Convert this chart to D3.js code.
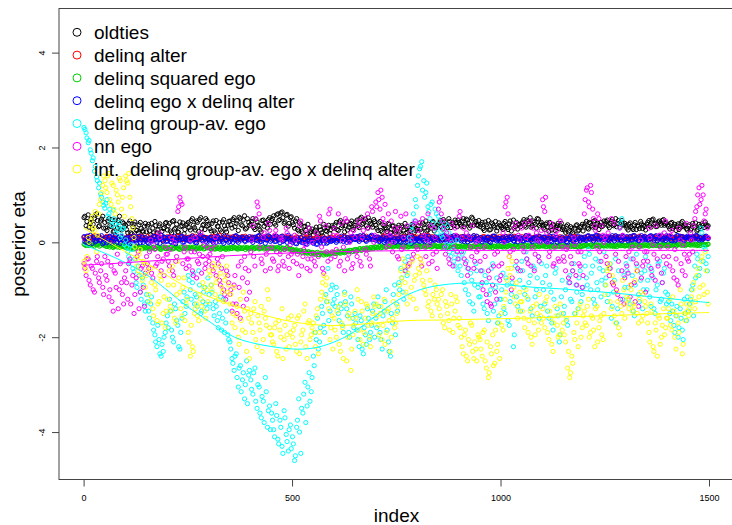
<!DOCTYPE html>
<html lang="en">
<head>
<meta charset="utf-8">
<title>posterior eta</title>
<script src="https://d3js.org/d3.v7.min.js"></script>
<style>
  body { margin: 0; background: #fff; }
  text { font-family: "Liberation Sans", Arial, sans-serif; }
</style>
</head>
<body>
<script>
// series labels and colours (legend order = drawing order)
var labels = ["oldties", "delinq alter", "delinq squared ego", "delinq ego x delinq alter",
              "delinq group-av. ego", "nn ego", "int.  delinq group-av. ego x delinq alter"];
var colors = ["#000000", "#ff0000", "#00cd00", "#0000ff", "#00ffff", "#ff00ff", "#ffff00"];

// MCMC draw indices (two interleaved sets of draws)
var indexA = d3.range(1, 1501, 5);
var indexB = d3.range(3, 1501, 5);

var oldties = [
 .52,.35,.58,.4,.28,.5,.6,.33,.45,.55, .42,.25,.5,.33,.22,.47,.3,.55,.26,.4,
 .36,.2,.45,.18,.38,.26,.2,.42,.24,.34, .22,.38,.16,.3,.44,.2,.35,.15,.29,.4,
 .26,.4,.2,.46,.3,.22,.43,.35,.18,.37, .42,.26,.5,.31,.45,.23,.52,.36,.27,.46,
 .38,.24,.45,.2,.34,.42,.22,.48,.28,.36, .45,.3,.52,.4,.25,.5,.35,.56,.3,.42,
 .38,.5,.27,.43,.34,.22,.47,.4,.3,.52, .46,.56,.36,.6,.48,.64,.4,.57,.34,.52,
 .42,.3,.5,.24,.38,.2,.34,.17,.3,.23, .16,.26,.12,.33,.2,.38,.25,.3,.18,.35,
 .3,.42,.25,.46,.35,.22,.44,.32,.4,.27, .36,.47,.31,.53,.4,.49,.3,.45,.37,.48,
 .36,.25,.44,.22,.35,.28,.4,.2,.34,.24, .24,.36,.18,.32,.4,.21,.3,.15,.35,.25,
 .28,.41,.22,.37,.45,.26,.35,.42,.24,.31, .37,.46,.28,.43,.35,.5,.31,.41,.47,.33,
 .42,.34,.5,.38,.47,.3,.53,.36,.44,.35, .33,.42,.25,.37,.46,.27,.39,.32,.24,.41,
 .35,.27,.44,.31,.39,.24,.47,.33,.28,.38, .4,.48,.32,.44,.52,.35,.42,.3,.49,.39,
 .36,.27,.41,.23,.33,.38,.25,.35,.29,.4, .31,.21,.37,.25,.3,.18,.35,.24,.31,.38,
 .34,.44,.28,.4,.32,.46,.37,.27,.42,.35, .39,.47,.31,.44,.35,.5,.4,.32,.46,.37,
 .35,.26,.41,.3,.37,.27,.34,.44,.29,.33, .38,.46,.32,.49,.4,.34,.45,.36,.48,.39,
 .37,.28,.42,.33,.25,.39,.31,.44,.35,.29, .34,.26,.4,.32,.24,.38,.29,.36,.43,.33
];
var oldtiesB = [
 .55,.44,.32,.5,.38,.57,.46,.35,.49,.3, .3,.45,.35,.48,.24,.38,.46,.28,.43,.32,
 .27,.4,.2,.33,.43,.25,.37,.29,.22,.4, .34,.24,.4,.2,.35,.26,.39,.23,.31,.42,
 .35,.24,.44,.28,.38,.21,.33,.41,.27,.39, .31,.46,.36,.26,.42,.48,.29,.38,.5,.35,
 .29,.4,.24,.46,.33,.26,.43,.35,.22,.44, .37,.48,.33,.45,.53,.37,.47,.28,.5,.36,
 .44,.31,.49,.36,.26,.46,.34,.42,.48,.38, .5,.4,.58,.46,.62,.52,.43,.59,.4,.54,
 .37,.45,.27,.41,.23,.33,.25,.38,.2,.28, .22,.32,.18,.26,.14,.3,.23,.36,.27,.31,
 .37,.27,.43,.31,.41,.35,.26,.38,.45,.32, .43,.34,.5,.38,.45,.35,.52,.4,.32,.44,
 .3,.41,.25,.37,.31,.23,.38,.28,.35,.21, .31,.22,.35,.26,.19,.33,.25,.38,.2,.29,
 .35,.27,.41,.31,.24,.38,.3,.44,.32,.36, .41,.33,.48,.37,.31,.44,.39,.35,.42,.47,
 .38,.45,.33,.49,.4,.35,.5,.41,.37,.46, .38,.29,.43,.33,.26,.41,.35,.44,.31,.36,
 .31,.4,.35,.27,.45,.36,.3,.42,.38,.33, .43,.35,.47,.4,.32,.45,.38,.5,.36,.42,
 .3,.38,.33,.42,.26,.35,.31,.4,.36,.27, .26,.34,.22,.33,.2,.3,.37,.26,.34,.24,
 .39,.3,.42,.35,.44,.31,.4,.36,.33,.45, .44,.35,.4,.48,.37,.33,.46,.41,.36,.4,
 .3,.38,.33,.27,.42,.35,.29,.39,.36,.26, .42,.35,.47,.38,.33,.43,.4,.46,.36,.41,
 .33,.4,.29,.38,.35,.27,.41,.33,.37,.26, .37,.29,.35,.41,.27,.33,.39,.31,.37,.35
];

var delinqAlter = [
 .1,.06,.13,.04,.09,.14,.07,.11,.05,.08, .09,.13,.06,.1,.03,.08,.12,.07,.1,.05,
 .07,.11,.04,.09,.13,.06,.1,.08,.12,.05, .08,.05,.11,.07,.14,.09,.06,.1,.04,.09,
 .12,.07,.1,.05,.09,.13,.08,.06,.11,.07, .06,.1,.14,.08,.05,.11,.09,.13,.07,.1,
 .09,.12,.06,.1,.08,.15,.07,.11,.05,.09, .11,.07,.1,.13,.06,.09,.12,.08,.1,.06,
 .08,.11,.05,.09,.14,.07,.1,.06,.12,.09, .1,.06,.13,.08,.11,.05,.09,.12,.07,.1,
 .05,.09,.12,.07,.1,.04,.08,.11,.06,.09, .07,.03,.09,.06,.1,.05,.08,.04,.07,.1,
 .09,.12,.06,.1,.07,.13,.08,.05,.11,.08, .1,.07,.12,.09,.14,.06,.1,.08,.13,.07,
 .08,.11,.06,.1,.13,.07,.09,.12,.05,.1, .09,.06,.11,.08,.12,.05,.1,.07,.13,.08,
 .11,.08,.13,.07,.1,.15,.09,.12,.06,.1, .07,.1,.05,.09,.12,.08,.11,.06,.1,.13,
 .09,.12,.07,.1,.06,.11,.08,.14,.09,.07, .1,.07,.12,.09,.05,.1,.13,.08,.11,.06,
 .08,.11,.06,.1,.13,.07,.09,.12,.08,.1, .12,.09,.14,.07,.1,.06,.11,.08,.13,.09,
 .07,.1,.05,.09,.12,.08,.06,.11,.09,.07, .09,.06,.11,.08,.1,.13,.07,.1,.05,.09,
 .11,.08,.13,.1,.07,.12,.09,.14,.08,.1, .08,.12,.06,.1,.09,.13,.07,.11,.1,.06,
 .1,.07,.12,.09,.14,.08,.11,.06,.1,.13, .09,.11,.07,.12,.08,.1,.13,.07,.09,.11,
 .12,.08,.1,.06,.11,.09,.13,.08,.1,.07, .09,.11,.07,.1,.13,.08,.1,.12,.09,.11
];
var delinqAlterB = [
 .07,.11,.05,.1,.13,.08,.06,.12,.09,.07, .11,.08,.12,.06,.1,.14,.09,.05,.11,.08,
 .1,.06,.12,.08,.05,.11,.07,.13,.09,.06, .12,.08,.06,.1,.07,.12,.1,.05,.11,.08,
 .08,.12,.06,.11,.07,.09,.13,.08,.05,.1, .11,.07,.09,.13,.08,.06,.12,.09,.1,.06,
 .07,.1,.13,.08,.11,.06,.1,.08,.13,.07, .09,.12,.06,.1,.08,.11,.07,.13,.09,.08,
 .11,.07,.1,.12,.06,.1,.08,.13,.07,.11, .08,.12,.09,.06,.1,.13,.07,.1,.11,.08,
 .08,.06,.1,.05,.09,.07,.11,.06,.08,.05, .06,.09,.04,.08,.05,.09,.06,.1,.05,.08,
 .1,.07,.11,.08,.12,.06,.1,.09,.07,.11, .08,.12,.07,.11,.09,.13,.08,.11,.06,.1,
 .11,.07,.09,.13,.08,.1,.06,.11,.09,.08, .07,.1,.08,.12,.06,.09,.11,.08,.1,.07,
 .09,.12,.08,.11,.14,.08,.1,.07,.12,.09, .11,.08,.13,.07,.1,.09,.12,.08,.07,.1,
 .08,.1,.12,.07,.11,.09,.06,.1,.12,.08, .09,.12,.06,.1,.08,.11,.07,.1,.09,.12,
 .1,.07,.12,.09,.11,.08,.13,.07,.1,.09, .08,.11,.1,.12,.07,.1,.09,.12,.08,.11,
 .09,.07,.11,.08,.1,.06,.1,.08,.12,.09, .07,.1,.08,.12,.06,.09,.11,.08,.1,.07,
 .09,.12,.08,.11,.1,.07,.12,.09,.11,.08, .1,.07,.11,.09,.12,.08,.1,.06,.12,.09,
 .08,.11,.09,.12,.07,.1,.13,.09,.11,.08, .1,.08,.12,.09,.11,.07,.1,.12,.08,.1,
 .1,.12,.08,.11,.09,.07,.1,.12,.09,.11, .1,.08,.12,.09,.11,.1,.08,.11,.1,.09
];

var delinqSqEgo = [
 -.04,-.07,-.02,-.06,-.03,-.08,-.05,-.02,-.06,-.04, -.06,-.09,-.05,-.08,-.11,-.07,-.1,-.06,-.09,-.08,
 -.1,-.12,-.08,-.11,-.14,-.09,-.12,-.1,-.13,-.11, -.12,-.1,-.14,-.11,-.13,-.09,-.12,-.15,-.1,-.13,
 -.11,-.14,-.1,-.13,-.09,-.12,-.15,-.11,-.13,-.1, -.12,-.1,-.13,-.11,-.14,-.1,-.12,-.09,-.13,-.11,
 -.1,-.13,-.11,-.14,-.12,-.1,-.13,-.11,-.15,-.12, -.11,-.13,-.1,-.12,-.14,-.11,-.13,-.1,-.12,-.14,
 -.12,-.1,-.13,-.11,-.14,-.12,-.1,-.13,-.11,-.12, -.13,-.11,-.14,-.12,-.1,-.13,-.15,-.12,-.14,-.13,
 -.15,-.18,-.16,-.2,-.17,-.22,-.19,-.23,-.2,-.24, -.22,-.25,-.21,-.26,-.23,-.27,-.24,-.22,-.25,-.23,
 -.21,-.24,-.2,-.23,-.19,-.22,-.18,-.2,-.17,-.19, -.16,-.18,-.14,-.17,-.13,-.15,-.12,-.14,-.11,-.13,
 -.1,-.12,-.09,-.11,-.08,-.1,-.07,-.09,-.06,-.08, -.07,-.09,-.06,-.08,-.1,-.07,-.09,-.06,-.08,-.07,
 -.08,-.06,-.09,-.07,-.1,-.08,-.06,-.09,-.07,-.08, -.09,-.07,-.1,-.08,-.11,-.09,-.07,-.1,-.08,-.09,
 -.08,-.1,-.07,-.09,-.11,-.08,-.1,-.07,-.09,-.08, -.09,-.07,-.1,-.08,-.06,-.09,-.11,-.08,-.1,-.07,
 -.08,-.1,-.07,-.09,-.06,-.08,-.1,-.07,-.09,-.08, -.07,-.09,-.06,-.08,-.1,-.07,-.09,-.06,-.08,-.07,
 -.08,-.06,-.09,-.07,-.1,-.08,-.06,-.09,-.07,-.08, -.09,-.07,-.1,-.08,-.06,-.09,-.07,-.1,-.08,-.07,
 -.07,-.05,-.08,-.06,-.09,-.07,-.05,-.08,-.06,-.07, -.06,-.08,-.05,-.07,-.09,-.06,-.08,-.05,-.07,-.06,
 -.07,-.05,-.08,-.06,-.04,-.07,-.09,-.06,-.08,-.05, -.06,-.08,-.05,-.07,-.04,-.06,-.08,-.05,-.07,-.06,
 -.05,-.07,-.04,-.06,-.08,-.05,-.03,-.06,-.04,-.05, -.04,-.06,-.03,-.05,-.07,-.04,-.06,-.03,-.05,-.04
];
var delinqSqEgoB = [
 -.05,-.03,-.07,-.04,-.06,-.02,-.05,-.08,-.03,-.06, -.08,-.06,-.1,-.07,-.09,-.06,-.08,-.11,-.07,-.1,
 -.11,-.09,-.13,-.1,-.12,-.08,-.11,-.14,-.1,-.12, -.11,-.14,-.12,-.1,-.13,-.11,-.14,-.12,-.1,-.13,
 -.13,-.11,-.14,-.12,-.11,-.14,-.1,-.13,-.12,-.14, -.11,-.13,-.1,-.14,-.12,-.13,-.11,-.14,-.1,-.12,
 -.12,-.11,-.14,-.1,-.13,-.15,-.11,-.13,-.12,-.14, -.13,-.1,-.12,-.14,-.11,-.13,-.12,-.15,-.11,-.13,
 -.11,-.14,-.12,-.1,-.13,-.11,-.14,-.12,-.13,-.11, -.12,-.14,-.11,-.13,-.15,-.12,-.14,-.11,-.13,-.16,
 -.17,-.16,-.19,-.18,-.21,-.19,-.22,-.2,-.23,-.21, -.24,-.22,-.26,-.23,-.25,-.22,-.26,-.24,-.23,-.21,
 -.23,-.2,-.22,-.19,-.21,-.2,-.19,-.17,-.2,-.16, -.15,-.17,-.13,-.16,-.14,-.12,-.15,-.11,-.13,-.1,
 -.11,-.09,-.12,-.08,-.1,-.09,-.08,-.07,-.09,-.07, -.08,-.06,-.09,-.07,-.08,-.1,-.06,-.08,-.07,-.09,
 -.07,-.09,-.08,-.06,-.09,-.07,-.1,-.08,-.06,-.09, -.08,-.1,-.07,-.09,-.08,-.1,-.08,-.09,-.07,-.1,
 -.09,-.07,-.1,-.08,-.07,-.1,-.09,-.08,-.1,-.07, -.08,-.1,-.07,-.09,-.1,-.07,-.08,-.09,-.07,-.09,
 -.09,-.07,-.1,-.08,-.07,-.09,-.08,-.06,-.1,-.07, -.08,-.06,-.09,-.07,-.08,-.06,-.1,-.07,-.09,-.06,
 -.07,-.09,-.06,-.08,-.07,-.1,-.08,-.07,-.09,-.06, -.08,-.09,-.06,-.09,-.07,-.08,-.09,-.06,-.09,-.08,
 -.06,-.08,-.07,-.05,-.08,-.06,-.07,-.09,-.05,-.08, -.07,-.05,-.08,-.06,-.07,-.09,-.05,-.07,-.06,-.08,
 -.06,-.08,-.05,-.07,-.06,-.05,-.08,-.07,-.05,-.07, -.05,-.07,-.06,-.04,-.07,-.05,-.07,-.06,-.04,-.07,
 -.06,-.04,-.07,-.05,-.06,-.04,-.06,-.05,-.07,-.04, -.05,-.03,-.06,-.04,-.05,-.07,-.03,-.05,-.06,-.04
];

var egoXAlter = [
 .12,0,.08,.15,-.02,.1,.03,.13,.05,-.03, .07,-.01,.11,.02,.09,.14,0,.06,.12,.03,
 .01,.1,-.03,.05,.13,.03,.08,-.01,.11,.05, .05,-.02,.09,.03,.12,0,.07,.15,.02,.1,
 .03,.11,0,.07,-.03,.09,.05,.13,.01,.07, .09,.02,.13,.05,-.01,.07,.14,.03,.1,0,
 .05,.11,0,.07,.13,.02,.09,-.02,.06,.11, .02,.09,.05,.14,0,.07,.11,.03,.1,.05,
 .07,0,.11,.04,.14,.02,.09,-.02,.06,.12, .05,.11,.02,.09,-.01,.13,.04,.07,.15,.02,
 0,.07,-.03,.05,.1,0,.07,-.04,.05,.03, -.02,.05,-.04,.03,.07,-.02,.05,0,.09,.03,
 .05,0,.09,.03,.07,.11,0,.07,.04,.12, .06,.12,.02,.09,.14,.04,.1,.06,.15,.08,
 .04,.11,.02,.07,0,.09,.04,.13,.02,.07, .03,.09,0,.05,.11,.02,.07,-.02,.09,.04,
 .07,.02,.11,.04,.13,.06,0,.09,.04,.11, .04,.11,.06,.14,.02,.08,.12,.04,.11,.06,
 .08,.03,.12,.06,.01,.1,.05,.14,.03,.08, .06,.01,.09,.04,.11,0,.06,.13,.03,.08,
 .04,.11,.02,.08,.06,.13,.03,.08,.01,.11, .08,.03,.14,.05,.1,.01,.08,.12,.05,.03,
 .06,.11,.01,.08,.04,.13,.06,0,.08,.04, .04,.09,0,.06,.11,.02,.06,.13,.03,.08,
 .1,.04,.14,.06,.12,.07,.15,.05,.1,.07, .05,.12,.03,.1,.07,.14,.05,.1,.03,.12,
 .07,.03,.12,.05,.14,.07,.03,.1,.05,.12, .1,.05,.14,.07,.12,.03,.09,.15,.06,.04,
 .07,.12,.03,.1,.05,.14,.07,.12,.04,.1, .1,.05,.12,.07,.14,.05,.1,.07,.12,.09
];
var egoXAlterB = [
 .02,.13,-.02,.07,.11,.01,.09,.04,.14,0, .1,.03,.13,-.01,.07,.05,.11,-.02,.06,.09,
 .08,0,.11,.03,.09,-.02,.13,.05,0,.1, 0,.07,.03,.13,.05,.1,-.02,.07,.11,.02,
 .1,.01,.07,.13,.03,.05,.11,0,.09,.05, .03,.11,.05,0,.09,.13,.05,.1,.02,.07,
 .1,.03,.07,0,.11,.07,.02,.13,.05,0, .07,0,.13,.03,.1,.05,.09,.02,.07,.12,
 .04,.1,.06,.13,.01,.07,.11,.05,.14,.02, .09,.02,.13,.05,.11,.02,.09,0,.07,.11,
 .05,-.02,.09,.02,0,.06,-.03,.02,.09,0, .02,-.04,.07,0,.04,.09,-.02,.07,.02,.05,
 .09,.03,.07,.13,.02,.05,.1,.02,.11,.07, .11,.05,.14,.06,.11,.02,.09,.13,.06,.11,
 .09,.02,.07,.11,.04,.02,.11,.06,.09,0, .07,.02,.11,.06,0,.09,.04,.11,.02,.07,
 .04,.11,.06,.01,.09,.13,.04,.06,.11,.06, .09,.03,.13,.06,.11,.04,.08,.14,.05,.12,
 .05,.11,.02,.09,.13,.04,.11,.06,.13,.03, .1,.05,.06,.11,.02,.08,.13,.05,.08,.03,
 .08,.03,.12,.04,.11,.07,.02,.11,.08,.05, .03,.11,.06,.13,.04,.08,.11,.03,.13,.08,
 .11,.03,.06,.13,.01,.08,.11,.05,.03,.11, .07,.01,.08,.13,.03,.09,.02,.08,.11,.05,
 .05,.13,.08,.11,.03,.14,.07,.12,.05,.12, .11,.05,.08,.14,.03,.1,.12,.05,.14,.08,
 .12,.07,.05,.14,.07,.1,.04,.14,.1,.06, .05,.13,.1,.04,.14,.07,.12,.05,.1,.14,
 .13,.05,.1,.03,.14,.08,.12,.05,.1,.13, .12,.06,.1,.14,.07,.11,.05,.09,.13,.08
];

var groupAvEgo = [
 2.42,2.31,2.1,1.95,1.72,1.5,1.38,1.15,1.02,.85, .72,.9,.6,.45,.68,.38,.25,.42,.15,.3,
 .05,-.2,-.4,-.15,-.62,-.85,-.5,-1.05,-.75,-1.3, -1.1,-1.45,-1.3,-1.7,-1.95,-2.2,-2.05,-2.4,-2.3,-1.9,
 -1.55,-1.2,-1.85,-2.1,-1.4,-1.75,-2.25,-1.6,-1.05,-1.35, -.7,-1.0,-.85,-1.3,-1.15,-.6,-1.5,-1.25,-.95,-1.4,
 -1.1,-.9,-1.4,-1.25,-1.65,-1.5,-1.85,-1.2,-1.7,-1.95, -2.1,-2.45,-2.7,-2.35,-3.05,-2.6,-2.9,-3.3,-2.5,-2.8,
 -2.9,-3.2,-2.65,-3.5,-3.05,-3.7,-3.35,-2.85,-3.9,-3.45, -3.6,-3.95,-3.4,-4.15,-3.75,-4.3,-3.55,-4.05,-4.4,-3.85,
 -4.1,-4.6,-3.9,-3.3,-4.45,-3.6,-2.95,-3.45,-2.75,-3.15, -2.4,-1.9,-1.6,-2.1,-1.35,-1.75,-1.1,-.55,-1.45,-.9,
 -1.2,-.95,-1.5,-1.3,-1.75,-1.05,-1.4,-1.9,-1.15,-1.6, -1.5,-1.85,-2.2,-1.65,-2.35,-1.95,-1.4,-2.05,-1.75,-1.3,
 -1.6,-1.15,-1.9,-2.25,-1.45,-1.0,-2.1,-2.4,-1.7,-.9, -1.3,-.85,-.55,-1.05,-.4,-.7,.1,.35,.6,.9,
 1.2,1.55,1.7,1.3,1.05,.75,.5,.85,.3,.6, .55,.3,.1,.4,-.05,.2,-.3,-.15,-.5,.05,
 -.35,-.7,-.2,-1.0,-.55,-1.25,-.8,-1.45,-.45,-.95, -1.15,-.6,-1.4,-.85,-1.65,-1.0,-.45,-1.3,-.75,-1.55,
 -1.2,-.65,-1.5,-.9,-1.75,-1.1,-2.2,-.5,-1.35,-.8, -.4,-.95,-.2,-1.2,-.7,-1.55,-.55,-1.0,-.3,-1.35,
 -.85,-1.3,-.5,-1.6,-1.05,-1.85,-.65,-1.4,-2.1,-1.15, -1.5,-1.0,-1.75,-.7,-1.25,-.45,-.9,-1.4,-.6,-1.1,
 -.3,-.75,-.15,-1.0,-.5,-1.3,-.85,-.4,-1.15,-.6, -.9,-1.25,-.55,-1.6,-1.05,-.35,-1.4,.3,.5,-.7,
 -.45,-.95,-1.3,-.7,-1.55,-.25,-1.1,-.8,-1.4,-.6, -1.0,-.5,-1.35,-.75,-1.5,-.9,-.4,-1.2,-.65,-1.05,
 -1.1,-1.5,-1.3,-1.75,-1.55,-2.0,-1.4,-1.85,-1.2,-1.65, -1.45,-1.2,-.9,-.5,-.25,-.7,.3,-.4,-.15,-.6
];
var groupAvEgoB = [
 2.38,2.2,2.15,1.88,1.78,1.6,1.3,1.25,.95,.78, .82,.55,.7,.35,.5,.2,.35,.1,.28,-.05,
 -.1,-.3,-.05,-.55,-.35,-.95,-.7,-1.2,-.9,-1.45, -1.25,-1.6,-1.15,-1.85,-2.1,-1.75,-2.35,-2.15,-2.0,-1.7,
 -1.8,-1.45,-2.0,-1.3,-1.65,-2.2,-1.9,-1.25,-1.5,-1.15, -.8,-1.2,-.65,-1.1,-1.35,-.9,-1.45,-1.05,-1.3,-.75,
 -1.3,-1.05,-1.55,-1.35,-1.8,-1.15,-1.6,-1.9,-1.45,-2.05, -2.25,-2.55,-2.4,-2.85,-2.65,-3.15,-2.75,-3.0,-3.4,-2.7,
 -3.1,-2.75,-3.35,-3.0,-3.6,-3.25,-3.8,-3.15,-3.55,-3.95, -3.75,-4.1,-3.65,-4.25,-3.9,-4.45,-3.7,-4.2,-3.95,-4.35,
 -4.25,-4.5,-3.75,-4.0,-3.5,-3.2,-3.8,-3.05,-3.35,-2.85, -2.6,-2.05,-2.25,-1.8,-1.5,-1.9,-1.25,-1.65,-1.0,-1.3,
 -1.35,-1.1,-1.65,-1.4,-1.9,-1.25,-1.55,-2.0,-1.3,-1.8, -1.7,-2.05,-1.55,-2.25,-1.8,-2.15,-1.6,-1.9,-1.45,-2.0,
 -1.8,-1.35,-2.05,-1.55,-1.25,-1.85,-2.3,-1.5,-1.1,-1.95, -1.45,-1.0,-.75,-1.2,-.6,-.3,0,.25,.45,.75,
 1.4,1.6,1.1,.95,1.25,.65,.8,.4,.7,.2, .45,.15,.25,-.1,.35,-.2,0,-.4,-.25,-.6,
 -.5,-.25,-.85,-.4,-1.1,-.65,-1.3,-.9,-.6,-1.15, -.9,-1.3,-.7,-1.5,-1.1,-.55,-1.45,-.95,-1.7,-1.2,
 -1.0,-1.4,-.75,-1.65,-1.25,-.85,-1.95,-1.15,-.6,-1.45, -.6,-1.1,-.35,-.85,-1.4,-.5,-1.15,-.75,-1.6,-.45,
 -1.0,-.7,-1.45,-.9,-1.7,-1.2,-.55,-1.55,-1.95,-.8, -1.35,-1.65,-.85,-1.2,-.6,-1.5,-1.05,-.75,-1.25,-.95,
 -.5,-.9,-.25,-.65,-1.2,-.35,-1.0,-.55,-.8,-.2, -.75,-1.1,-.45,-1.35,-.8,-1.7,-.6,.4,-1.2,-.95,
 -.6,-1.2,-.35,-1.45,-.9,-.5,-1.25,-.65,-1.0,-.3, -.8,-1.15,-.6,-1.4,-1.0,-.45,-1.25,-.85,-.55,-1.3,
 -1.25,-1.65,-1.45,-1.9,-1.35,-1.8,-1.6,-2.05,-1.5,-1.15, -1.3,-1.0,-1.55,-.75,-.35,-.55,.2,-.1,-.45,-.3
];

var nnEgo = [
 -.45,-.7,-.35,-.9,-.55,-1.05,-.4,-.75,-.6,-.95, -.3,-.8,-1.15,-.5,-1.45,-.65,-.25,-1.0,-.85,-1.3,
 -.6,-1.2,-.35,-.9,-1.5,-.75,-.2,-1.05,-.5,-1.35, -.3,-.55,.05,-.75,-.15,-.45,.2,-.6,-.35,-.1,
 -.25,-.5,.1,-.7,-.4,.65,.95,.8,-.2,-.55, -.35,.05,-.6,-.2,-.75,-.45,.2,-.3,-.55,-.1,
 -.4,-.15,-.6,.1,-.35,-.8,-.55,-1.0,-1.2,-.7, -1.1,-1.45,-.9,-1.3,-.5,-1.6,-.75,-.3,-1.2,-.6,
 -.2,.35,-.5,.85,.6,-.35,.1,-.6,-.15,.25, -.1,-.4,.25,-.6,-.25,.05,-.5,.3,-.3,-.05,
 -.2,.15,-.45,-.7,.45,-.3,-.05,-.55,.3,-.35, -.25,-.5,.1,.55,-.1,-.65,.35,-.4,.7,-.2,
 .3,-.15,.6,-.4,.05,-.6,.45,-.25,.2,-.45, .1,-.3,.45,-.5,.25,-.15,.6,-.35,.75,0,
 .85,1.05,.7,.95,.4,-.1,.6,.15,-.2,.3, .2,-.35,.55,-.1,-.6,.35,-.45,.05,-.25,.45,
 -.15,.4,-.5,.15,-.3,.6,-.05,-.4,.3,-.2, .7,.95,.45,-.1,.2,-.35,.05,-.5,.3,-.2,
 .55,-.2,.3,-.45,-.7,.1,-.3,-.55,0,-.15, -.4,-.85,-.1,-1.1,-.6,-1.3,-.9,-.25,-1.2,-.5,
 -.7,.2,.75,.95,-.3,-1.0,-.15,.4,-.55,.05, .3,-.2,.1,-.45,.45,-.1,-.6,.2,-.3,0,
 .9,.65,.2,-.3,.4,-.5,-.1,.25,-.4,.05, -.3,-.6,-.1,-.85,-.45,.1,-.7,-.2,-.5,-.95,
 .6,1.1,.85,1.2,.7,.35,-.1,.5,-.4,.15, .1,-.45,-.7,.5,-.9,-.25,-1.1,.3,-.6,-1.3,
 -.3,-.65,-1.15,-.1,-.85,-.45,-1.35,.05,-.5,-.2, -.2,.3,-.55,-.05,-.8,-.35,.15,-.65,-.3,.45,
 -.1,-.5,.25,-.75,-.35,-.9,.05,-.6,-.25,.4, -.4,.2,-.2,.5,.75,1.15,.9,1.0,.6,.3
];
var nnEgoB = [
 -.55,-.35,-.8,-.5,-1.0,-.65,-.3,-.85,-.45,-1.1, -.7,-.4,-1.0,-1.25,-.6,-.95,-1.4,-.45,-1.1,-.75,
 -.85,-.45,-1.3,-.7,-1.1,-.3,-1.4,-.55,-.95,-.65, -.45,-.2,-.65,-.05,-.5,-.3,.1,-.4,-.7,-.25,
 -.4,-.15,-.6,0,-.3,.75,.85,-.45,-.1,-.35, -.5,-.2,-.7,.1,-.4,-.25,-.65,-.05,-.45,-.3,
 -.25,-.5,-.05,-.7,-.45,-.9,-.3,-1.1,-.6,-.85, -1.0,-1.3,-.7,-1.5,-.95,-.4,-1.35,-.55,-.85,-1.05,
 .05,-.3,.5,.75,-.1,-.45,.2,-.25,.4,-.55, -.35,.15,-.2,-.5,.1,-.4,-.15,.2,-.55,-.25,
 -.4,.05,-.25,.35,-.5,-.15,.2,-.35,-.6,0, -.4,.2,-.3,.45,-.55,.05,-.2,.6,-.35,.15,
 -.3,.15,-.5,.4,-.1,.5,-.35,0,-.55,.25, -.2,.35,-.4,.1,.5,-.25,.3,-.5,.65,.15,
 .75,.9,1.1,.5,.8,.2,-.05,.45,0,.65, -.3,.3,-.15,.1,.6,-.5,.2,-.35,.4,-.1,
 .25,-.35,.5,-.1,.05,-.45,.35,-.25,.1,-.55, .85,.6,.3,-.25,.1,-.45,.4,-.1,.15,-.35,
 .65,.1,-.35,.2,-.55,-.1,.35,-.4,-.2,.05, -.6,-1.0,-.3,-1.25,-.75,-1.35,-.5,-1.05,-.2,-.8,
 -.45,0,.85,.6,-.2,-.75,.3,-.4,.15,-.6, -.1,.4,-.35,.15,-.5,.3,-.25,.05,-.4,.25,
 .75,.95,0,-.2,.3,-.45,.15,-.35,.45,-.1, -.4,-.15,-.75,-.3,-.6,-.05,-.9,-.45,-.2,-.7,
 .9,1.15,.75,1.05,.5,.25,.6,-.2,.35,0, -.3,.2,-.55,-.85,.4,-1.0,-.4,-1.2,.15,-.75,
 -.5,-.2,-.9,-.35,-1.25,-.6,-.1,-.75,-.4,-1.05, -.4,.1,-.7,-.25,.35,-.5,-.1,-.85,.2,-.45,
 -.3,.15,-.6,-.15,-.8,.3,-.45,-.05,-.7,-.35, -.25,.05,.35,.65,1.0,.8,1.2,.45,.7,.1
];

var intGroupAv = [
 -.4,-.6,.1,.35,.55,.25,-.2,.6,.9,1.2, 1.3,1.05,1.45,.8,1.2,.6,1.0,1.35,.7,1.15,
 1.4,1.25,.95,.5,.1,-.35,-.6,-.15,-.8,-.45, -.7,-1.1,-.55,-1.4,-.9,-1.65,-1.25,-.8,-1.5,-1.8,
 -1.2,-.6,-1.45,-.9,-1.7,-.4,-1.05,-1.55,-.75,-1.3, -1.9,-2.4,-2.2,-1.5,-1.3,-1.65,-1.2,-.85,-1.45,-1.0,
 -.6,-.9,-.45,-1.1,-.75,-.5,-.95,-1.25,-.7,-1.05, -1.3,-1.7,-.95,-1.55,-2.0,-1.2,-1.85,-1.45,-2.3,-1.6,
 -1.5,-1.9,-1.25,-2.2,-1.7,-1.35,-2.05,-1.6,-1.0,-1.8, -1.95,-2.15,-1.7,-2.4,-1.85,-1.4,-2.05,-2.25,-1.6,-1.9,
 -2.0,-1.75,-2.3,-1.55,-2.1,-1.85,-1.3,-2.45,-1.65,-1.95, -1.7,-2.2,-1.4,-1.9,-1.05,-.7,-.9,-1.25,-2.05,-1.55,
 -1.6,-2.0,-1.35,-2.3,-1.8,-1.1,-2.5,-1.5,-2.7,-1.95, -1.45,-1.0,-1.85,-1.25,-2.15,-1.6,-1.35,-2.0,-1.7,-1.15,
 -1.3,-1.75,-1.5,-2.05,-1.2,-1.9,-1.4,-2.3,-1.6,-1.8, -1.5,-1.1,-.6,-.35,-.85,-1.3,-.5,-.95,-1.2,-.7,
 -.3,-.65,-.45,-.9,-1.1,-1.35,-.8,-1.55,-1.2,-1.0, -1.2,-1.55,-1.0,-1.8,-1.35,-1.65,-1.1,-1.9,-1.45,-1.25,
 -1.6,-2.0,-2.35,-1.85,-2.5,-2.15,-1.75,-2.45,-2.25,-1.95, -2.05,-2.4,-1.85,-2.65,-2.85,-2.2,-1.95,-2.55,-2.3,-1.7,
 -1.5,-1.85,-1.2,-.8,-.3,-.55,-.95,-1.3,-1.6,-1.05, -1.25,-1.6,-1.0,-1.9,-1.45,-2.15,-1.7,-1.3,-1.85,-1.55,
 -1.4,-1.8,-1.15,-2.05,-1.6,-2.3,-1.35,-1.75,-1.95,-1.5, -1.7,-2.1,-2.65,-2.85,-2.4,-1.9,-1.5,-2.2,-1.3,-1.8,
 -1.45,-1.75,-1.2,-1.9,-1.6,-2.2,-1.35,-1.8,-1.55,-2.05, -1.1,-.6,-.45,-1.4,-.85,-1.7,-1.25,-1.95,-1.5,-1.0,
 -1.3,-1.2,-.9,-1.45,-1.35,-.6,-1.7,-1.05,-1.55,-1.25, -1.5,-1.9,-1.3,-2.2,-1.7,-2.4,-1.6,-2.0,-1.4,-1.8,
 -1.6,-1.2,-1.85,-1.45,-2.25,-1.7,-1.0,-2.35,-1.5,-1.3, -1.55,-1.3,-1.0,-1.4,-.7,-1.15,-.4,-.9,-.2,-1.05
];
var intGroupAvB = [
 -.5,-.3,0,.45,.3,.65,.15,.8,1.05,1.4, 1.15,1.4,.9,1.25,.7,1.1,.85,1.3,.95,.55,
 1.3,1.45,.75,.3,-.1,-.5,-.25,-.7,-.4,-.95, -.6,-1.25,-.85,-1.55,-1.0,-1.3,-.7,-1.7,-1.15,-1.45,
 -.9,-1.35,-.5,-1.6,-1.1,-.75,-1.4,-.95,-1.65,-1.2, -2.1,-1.75,-2.3,-1.4,-1.55,-1.1,-1.35,-.95,-1.6,-1.25,
 -.7,-1.0,-.55,-.85,-1.2,-.65,-1.05,-.8,-.5,-.9, -1.1,-1.5,-1.8,-1.35,-2.15,-1.65,-1.05,-1.9,-1.4,-2.45,
 -1.7,-1.4,-2.05,-1.55,-1.85,-2.3,-1.45,-1.75,-1.2,-1.95, -2.1,-1.8,-2.3,-1.65,-2.0,-2.45,-1.75,-1.95,-2.2,-1.55,
 -1.85,-2.15,-1.6,-2.35,-1.95,-1.45,-2.2,-1.7,-2.05,-1.8, -1.9,-1.55,-2.35,-1.2,-.85,-1.15,-.75,-1.4,-1.8,-2.25,
 -1.85,-1.45,-2.15,-1.7,-2.45,-1.3,-2.0,-1.6,-2.25,-1.75, -1.6,-1.2,-2.05,-1.45,-1.9,-1.3,-1.75,-2.2,-1.5,-1.35,
 -1.55,-1.95,-1.35,-1.75,-2.15,-1.45,-1.65,-2.0,-1.25,-1.7, -1.35,-.9,-.75,-.5,-1.05,-.65,-1.15,-.4,-.8,-1.4,
 -.55,-.35,-.8,-1.0,-.6,-1.25,-1.45,-1.1,-.9,-1.3, -1.4,-1.1,-1.7,-1.25,-1.5,-1.85,-1.3,-1.6,-1.15,-1.75,
 -1.8,-2.2,-1.95,-2.4,-2.05,-1.7,-2.3,-2.1,-2.5,-2.0, -2.25,-1.9,-2.5,-2.1,-2.75,-2.35,-2.6,-1.85,-2.15,-2.45,
 -1.75,-1.35,-1.05,-.55,-.7,-.4,-1.15,-.85,-1.45,-1.25, -1.45,-1.8,-1.15,-1.65,-2.0,-1.35,-1.95,-1.5,-1.1,-1.7,
 -1.6,-1.25,-1.9,-1.45,-2.15,-1.7,-1.55,-2.0,-1.3,-1.85, -1.95,-1.6,-2.3,-2.75,-2.55,-2.05,-1.7,-1.4,-2.0,-1.55,
 -1.7,-1.35,-2.0,-1.55,-1.85,-1.4,-2.1,-1.65,-1.95,-1.5, -.9,-.55,-1.25,-.7,-1.55,-1.05,-1.8,-1.35,-.8,-1.6,
 -1.15,-1.4,-1.0,-1.3,-.8,-1.5,-1.2,-1.65,-1.1,-1.35, -1.7,-2.1,-1.45,-2.3,-1.85,-1.55,-2.15,-1.75,-1.95,-1.6,
 -1.4,-1.75,-1.15,-2.0,-1.55,-1.9,-1.3,-2.15,-1.65,-1.45, -1.4,-1.15,-.85,-1.25,-.55,-.95,-.3,-1.1,-.6,-1.3
];

// smoothed trend lines
var smoothIndex = d3.range(0, 1501, 50);
var cyanSmooth = [-.05,-.22,-.42,-.66,-1.0,-1.38,-1.65,-1.98,-2.12,-2.2,-2.26,-2.25,-2.12,-1.9,-1.55,-1.22,
                  -1.0,-.9,-.86,-.85,-.88,-.93,-.96,-.98,-1.02,-1.05,-1.09,-1.14,-1.18,-1.23,-1.27];
var yellowSmooth = [.3,.05,-.2,-.42,-.7,-.97,-1.15,-1.3,-1.45,-1.58,-1.68,-1.74,-1.76,-1.74,-1.7,-1.66,
                    -1.64,-1.64,-1.63,-1.62,-1.61,-1.6,-1.59,-1.57,-1.56,-1.55,-1.53,-1.52,-1.5,-1.49,-1.48];
var magentaSmooth = [-.48,-.46,-.43,-.4,-.37,-.34,-.31,-.28,-.26,-.24,-.22,-.21,-.2,-.19,-.18,-.18,
                     -.17,-.17,-.17,-.17,-.17,-.17,-.17,-.17,-.17,-.17,-.17,-.17,-.17,-.17,-.17];

var xTicks = [0, 500, 1000, 1500];
var yTicks = [-4, -2, 0, 2, 4];

var series = [
  [oldties, oldtiesB], [delinqAlter, delinqAlterB], [delinqSqEgo, delinqSqEgoB], [egoXAlter, egoXAlterB],
  [groupAvEgo, groupAvEgoB], [nnEgo, nnEgoB], [intGroupAv, intGroupAvB]
];

var w = 732, h = 525;
var plotL = 59, plotR = 734, plotT = 8.5, plotB = 479.5;

var svg = d3.select("body").append("svg")
    .attr("width", w)
    .attr("height", h);

var x = d3.scaleLinear().domain([-59, 1560]).range([plotL, plotR]);
var y = d3.scaleLinear().domain([-5.0, 4.93]).range([plotB, plotT]);

// points: each series gets its two sets of draws, in legend order
series.forEach(function(pair, i) {
  var pts = [];
  pair[0].forEach(function(v, j) { pts.push({ idx: indexA[j], v: v }); });
  pair[1].forEach(function(v, j) { pts.push({ idx: indexB[j], v: v }); });
  pts.sort(function(a, b) { return a.idx - b.idx; });

  svg.append("g")
    .selectAll("circle")
    .data(pts)
    .enter()
    .append("circle")
    .attr("cx", function(d) { return x(d.idx); })
    .attr("cy", function(d) { return y(d.v); })
    .attr("r", 2.1)
    .attr("fill", "none")
    .attr("stroke", colors[i])
    .attr("stroke-width", 1);
});

// smooth lines
var line = d3.line()
    .x(function(d, j) { return x(smoothIndex[j]); })
    .y(function(d) { return y(d); })
    .curve(d3.curveBasis);

[[cyanSmooth, colors[4]], [yellowSmooth, colors[6]], [magentaSmooth, colors[5]]].forEach(function(s) {
  svg.append("path")
    .attr("d", line(s[0]))
    .attr("fill", "none")
    .attr("stroke", s[1])
    .attr("stroke-width", 1);
});

// frame
svg.append("rect")
  .attr("x", plotL).attr("y", plotT)
  .attr("width", plotR - plotL).attr("height", plotB - plotT)
  .attr("fill", "none")
  .attr("stroke", "#444")
  .attr("stroke-width", 1);

// axes
var xAxis = svg.append("g")
  .attr("transform", "translate(0," + plotB + ")")
  .call(d3.axisBottom(x).tickValues(xTicks).tickFormat(d3.format("d")).tickSize(7).tickSizeOuter(0));
xAxis.select(".domain").remove();
xAxis.selectAll("line").attr("stroke", "#444");
xAxis.selectAll("text")
  .attr("y", 21).attr("dy", 0)
  .style("font-size", "9px")
  .attr("fill", "#000");

var yAxis = svg.append("g")
  .attr("transform", "translate(" + plotL + ",0)")
  .call(d3.axisLeft(y).tickValues(yTicks).tickFormat(d3.format("d")).tickSize(7).tickSizeOuter(0));
yAxis.select(".domain").remove();
yAxis.selectAll("line").attr("stroke", "#444");
yAxis.selectAll("text")
  .attr("x", 0).attr("dy", 0)
  .attr("transform", "translate(-14,0) rotate(-90)")
  .attr("text-anchor", "middle")
  .style("font-size", "9px")
  .attr("fill", "#000")
  .text(function(d) { return String(d); });

// axis titles
svg.append("text")
  .attr("x", (plotL + plotR) / 2).attr("y", 522)
  .attr("text-anchor", "middle")
  .style("font-size", "19px")
  .text("index");

svg.append("text")
  .attr("transform", "translate(25," + ((plotT + plotB) / 2) + ") rotate(-90)")
  .attr("text-anchor", "middle")
  .style("font-size", "19px")
  .text("posterior eta");

// legend
var legend = svg.append("g")
  .selectAll("g")
  .data(labels)
  .enter()
  .append("g")
  .attr("transform", function(d, i) { return "translate(0," + (32.3 + i * 22.8) + ")"; });

legend.append("circle")
  .attr("cx", 77).attr("cy", 0).attr("r", 4)
  .attr("fill", "none")
  .attr("stroke", function(d, i) { return colors[i]; })
  .attr("stroke-width", 1);

legend.append("text")
  .attr("x", 94).attr("y", 6.8)
  .style("font-size", "19px")
  .style("white-space", "pre")
  .text(function(d) { return d; });
</script>
</body>
</html>
